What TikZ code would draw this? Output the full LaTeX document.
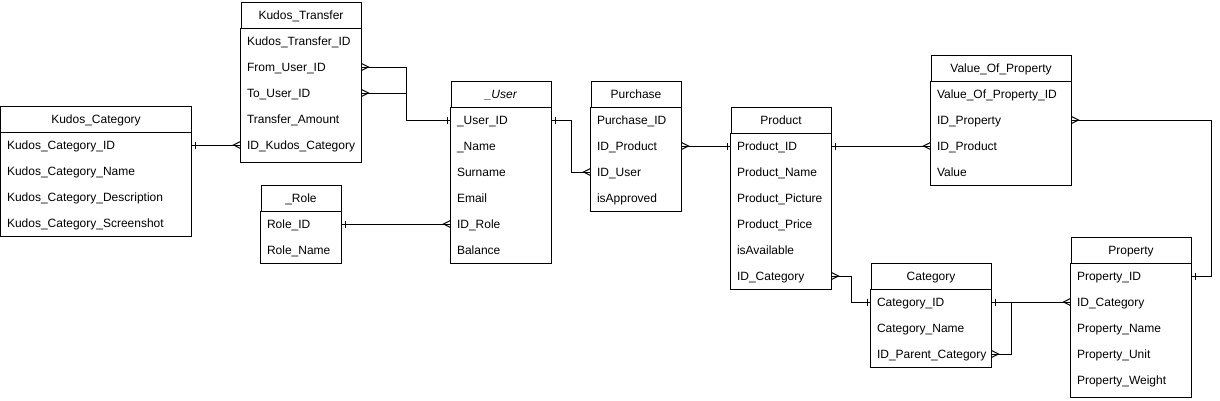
\documentclass[tikz,border=0pt]{standalone}
\usepackage{fontspec}
\setmainfont{Liberation Sans}
\usetikzlibrary{arrows.meta}

\pgfdeclarearrow{
  name = ermany,
  setup code = {
    \pgfarrowssettipend{0pt}
    \pgfarrowssetlineend{0pt}
    \pgfarrowssetbackend{-7pt}
    \pgfarrowssetvisualbackend{-7pt}
    \pgfarrowshullpoint{0pt}{3.5pt}
    \pgfarrowshullpoint{0pt}{-3.5pt}
    \pgfarrowshullpoint{-7pt}{0pt}
  },
  drawing code = {
    \pgfsetdash{}{0pt}
    \pgfpathmoveto{\pgfqpoint{0pt}{3.5pt}}
    \pgfpathlineto{\pgfqpoint{-7pt}{0pt}}
    \pgfpathlineto{\pgfqpoint{0pt}{-3.5pt}}
    \pgfusepathqstroke
  }
}
\pgfdeclarearrow{
  name = erone,
  setup code = {
    \pgfarrowssettipend{0pt}
    \pgfarrowssetlineend{0pt}
    \pgfarrowssetbackend{-4pt}
    \pgfarrowssetvisualbackend{-4pt}
    \pgfarrowshullpoint{-3.5pt}{3.5pt}
    \pgfarrowshullpoint{-3.5pt}{-3.5pt}
    \pgfarrowshullpoint{0pt}{0pt}
  },
  drawing code = {
    \pgfsetdash{}{0pt}
    \pgfpathmoveto{\pgfqpoint{-3.5pt}{3.5pt}}
    \pgfpathlineto{\pgfqpoint{-3.5pt}{-3.5pt}}
    \pgfusepathqstroke
  }
}

\tikzset{
  erhead/.style={draw, anchor=north west, minimum height=26pt, inner sep=0pt,
    text height=10pt, text depth=2pt},
  errow/.style={anchor=north west, minimum height=26pt, inner xsep=6pt, inner ysep=0pt,
    text height=10pt, text depth=2pt, align=left},
}

\newcommand{\ertable}[7][0]{%
  \pgfmathsetmacro\erwidth{#5-12}
  \node[erhead, minimum width=#5pt] (#2) at (#3,#4) {#6};
  \foreach \rowtext [count=\idx] in {#7}
    {\node[errow, text width=\erwidth pt] (#2-\idx) at (#3,#4+26*\idx) {\rowtext};
     \xdef\erlast{\idx}}
  \draw (#2.south west) rectangle ([yshift=-#1pt]#2-\erlast.south east);
}

\begin{document}
\begin{tikzpicture}[x=1pt, y=-1pt, line width=1pt, font=\fontsize{12}{14}\selectfont]
      \path[use as bounding box, fill=white] (-0.5,-0.5) rectangle (1219.5,399.5);

      \ertable{kc}{0}{105}{190}{Kudos\_Category}{Kudos\_Category\_ID, Kudos\_Category\_Name, Kudos\_Category\_Description, Kudos\_Category\_Screenshot}
      \ertable[4]{kt}{240}{1}{120}{Kudos\_Transfer}{Kudos\_Transfer\_ID, From\_User\_ID, To\_User\_ID, Transfer\_Amount, ID\_Kudos\_Category}
      \ertable{ro}{260}{184}{80}{\_Role}{Role\_ID, Role\_Name}
      \ertable{us}{450}{80}{100}{\textit{\_User}}{\_User\_ID, \_Name, Surname, Email, ID\_Role, Balance}
      \ertable{pu}{590}{80}{90}{Purchase}{Purchase\_ID, ID\_Product, ID\_User, isApproved}
      \ertable{pd}{730}{106}{100}{Product}{Product\_ID, Product\_Name, Product\_Picture, Product\_Price, isAvailable, ID\_Category}
      \ertable{vp}{930}{54}{140}{Value\_Of\_Property}{Value\_Of\_Property\_ID, ID\_Property, ID\_Product, Value}
      \ertable{ca}{870}{262}{120}{Category}{Category\_ID, Category\_Name, ID\_Parent\_Category}
      \ertable[4]{pr}{1070}{236}{120}{Property}{Property\_ID, ID\_Category, Property\_Name, Property\_Unit, Property\_Weight}

      \draw[erone-ermany] (kc-1.east) -- (kt-5.west);
      \draw[ermany-erone] (kt-2.east) -- ++(45,0) |- (us-1.west);
      \draw[ermany-] (kt-3.east) -- ++(45,0);
      \draw[erone-ermany] (ro-1.east) -- (us-5.west);
      \draw[erone-ermany] (us-1.east) -- ++(20,0) |- (pu-3.west);
      \draw[ermany-erone] (pu-2.east) -- (pd-1.west);
      \draw[erone-ermany] (pd-1.east) -- (vp-3.west);
      \draw[ermany-erone] (pd-6.east) -- ++(20,0) |- (ca-1.west);
      \draw[erone-ermany] (ca-1.east) -- (pr-2.west);
      \draw[ermany-erone] (ca-3.east) -- ++(20,0) |- (ca-1.east);
      \draw[ermany-erone] (vp-2.east) -- ++(140,0) |- (pr-1.east);
    \end{tikzpicture}
\end{document}
